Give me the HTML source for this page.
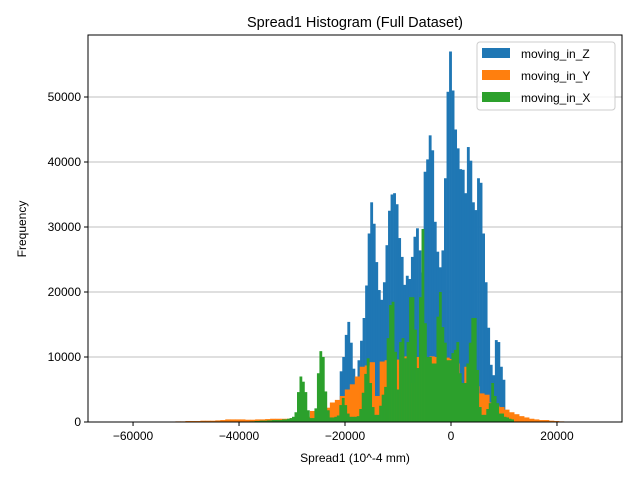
<!DOCTYPE html>
<html><head><meta charset="utf-8">
<style>
html,body{margin:0;padding:0;background:#fff;}
svg{display:block;font-family:"Liberation Sans","DejaVu Sans",sans-serif;}
</style></head>
<body>
<svg id="chart" width="640" height="480" viewBox="0 0 640 480" xmlns="http://www.w3.org/2000/svg">
<rect width="640" height="480" fill="#fff"/>
<text x="355" y="27" text-anchor="middle" font-size="14.5">Spread1 Histogram (Full Dataset)</text>
<g id="grid"></g>
<g id="bars"></g>
<rect x="88" y="35" width="534" height="387" fill="none" stroke="#000" stroke-width="1"/>
<g id="axes"></g>
<text x="355" y="462" text-anchor="middle" font-size="12">Spread1 (10^-4 mm)</text>
<text x="0" y="0" transform="translate(26,229) rotate(-90)" text-anchor="middle" font-size="12">Frequency</text>
<g>
<rect x="477" y="42" width="138" height="68" rx="3" fill="#fff" fill-opacity="0.8" stroke="#ccc"/>
<rect x="482" y="48" width="28" height="10" fill="#1f77b4"/>
<text x="521" y="58" font-size="12">moving_in_Z</text>
<rect x="482" y="70" width="28" height="10" fill="#ff7f0e"/>
<text x="521" y="80" font-size="12">moving_in_Y</text>
<rect x="482" y="92" width="28" height="10" fill="#2ca02c"/>
<text x="521" y="102" font-size="12">moving_in_X</text>
</g>
</svg>
<script>
const xTicks = [-60000, -40000, -20000, 0, 20000];
const yTicks = [0, 10000, 20000, 30000, 40000, 50000];
const zStart = -21000, zWidth = 480;
const zCounts = [7800,10000,13400,15400,12200,8200,6600,9500,12500,16000,21000,29000,33800,30500,24600,20300,18800,21500,27200,32500,35000,35200,33500,28300,25400,21100,22500,22000,25400,28500,29800,26400,23000,38500,40400,44100,41800,30800,26200,23800,26400,37500,50800,57000,51000,45000,42100,38900,38800,35200,42300,40200,33800,32600,37500,36800,29000,21500,14500,8800,7200,12600,12300,8500,6500];
const yStart = -52000, yWidth = 940;
const yCounts = [100,100,150,150,150,200,200,200,250,300,400,400,400,400,350,350,400,400,450,500,500,500,500,600,600,600,800,1700,1700,1500,2200,3000,3400,4000,5000,5800,7000,8500,8700,9200,4000,9300,9500,9500,9600,10000,10100,6000,10000,10100,10000,10100,10000,9800,9900,9700,9000,5000,8500,7000,5500,4400,4200,3000,2500,2300,1900,1500,1200,900,700,500,400,300,300,200,150,100];
const xStart = -37990, xWidth = 470;
const xCounts = [100,100,150,150,200,200,200,250,250,300,300,300,300,400,400,500,600,800,1500,4600,7000,6200,4600,1800,600,600,2100,7500,10900,10000,4700,1800,700,700,800,1000,2600,3700,2600,1300,800,800,800,900,2000,4500,7400,9800,6000,2300,1100,1100,2500,4200,5400,12900,18000,18500,10800,5000,12300,12900,9800,12300,19200,19200,14200,8300,19200,29700,15200,10000,10000,9000,9000,16200,20000,14600,12200,9500,9500,10600,11100,12300,7500,6000,6000,9000,12200,16000,16000,8000,2300,1100,1100,2000,2900,6000,4000,2900,1300,1300,800,700,500,400];

const X0=88,X1=622,Y0=422,Y1=35;
const xMin=-68500,xMax=32270,yMin=0,yMax=59538;
function sx(v){return X0+(v-xMin)/(xMax-xMin)*(X1-X0);}
function sy(v){return Y0-(v-yMin)/(yMax-yMin)*(Y0-Y1);}
const NS="http://www.w3.org/2000/svg";
const grid=document.getElementById('grid'),bars=document.getElementById('bars'),axes=document.getElementById('axes');
yTicks.forEach(t=>{
  const y=sy(t);
  const g=document.createElementNS(NS,'line');
  g.setAttribute('x1',X0);g.setAttribute('x2',X1);g.setAttribute('y1',y);g.setAttribute('y2',y);
  g.setAttribute('stroke','#bfbfbf');g.setAttribute('stroke-width','1');
  
  
  grid.appendChild(g);
  const tk=document.createElementNS(NS,'line');
  tk.setAttribute('x1',X0-4);tk.setAttribute('x2',X0);tk.setAttribute('y1',y);tk.setAttribute('y2',y);tk.setAttribute('stroke','#000');
  
  
  axes.appendChild(tk);
  const tx=document.createElementNS(NS,'text');
  tx.setAttribute('x',X0-7);tx.setAttribute('y',y+4);tx.setAttribute('text-anchor','end');tx.setAttribute('font-size','12');
  tx.textContent=t;
  
  
  axes.appendChild(tx);
});
xTicks.forEach(t=>{
  const x=sx(t);
  const tk=document.createElementNS(NS,'line');
  tk.setAttribute('x1',x);tk.setAttribute('x2',x);tk.setAttribute('y1',Y0);tk.setAttribute('y2',Y0+4);tk.setAttribute('stroke','#000');
  
  
  axes.appendChild(tk);
  const tx=document.createElementNS(NS,'text');
  tx.setAttribute('x',x);tx.setAttribute('y',Y0+18);tx.setAttribute('text-anchor','middle');tx.setAttribute('font-size','12');
  tx.textContent=t<0?'\u2212'+Math.abs(t):String(t);
  
  
  axes.appendChild(tx);
});
function drawSeries(start,width,counts,color,name){
  counts.forEach((c,i)=>{
    const a=sx(start+i*width),b=sx(start+(i+1)*width);
    const r=document.createElementNS(NS,'rect');
    r.setAttribute('x',a);r.setAttribute('width',b-a+0.3);
    r.setAttribute('y',sy(c));r.setAttribute('height',sy(0)-sy(c));
    r.setAttribute('fill',color);
    
    
    bars.appendChild(r);
  });
}
drawSeries(zStart,zWidth,zCounts,'#1f77b4','bar-moving-in-z');
drawSeries(yStart,yWidth,yCounts,'#ff7f0e','bar-moving-in-y');
drawSeries(xStart,xWidth,xCounts,'#2ca02c','bar-moving-in-x');
</script>
</body></html>
